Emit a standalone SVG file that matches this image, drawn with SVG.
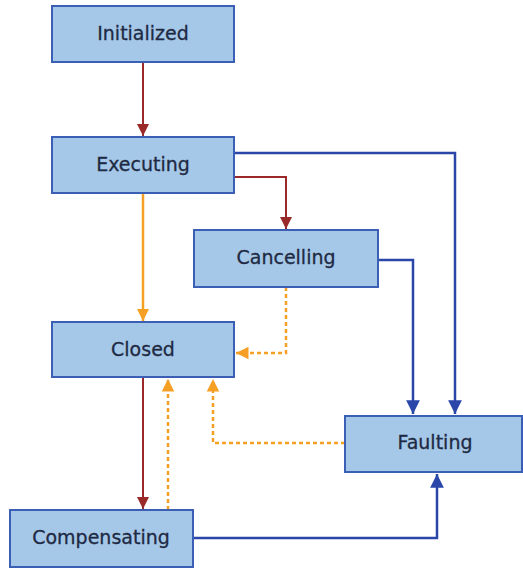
<svg xmlns="http://www.w3.org/2000/svg" width="523" height="569" viewBox="0 0 523 569">
<defs>
<style>
.box{fill:#a6c8e8;stroke:#3a5fb5;stroke-width:2}
.lbl{font-family:"DejaVu Sans",Verdana,sans-serif;font-size:19px;fill:#1e2a44;stroke:#1e2a44;stroke-width:0.3;text-anchor:middle;dominant-baseline:central}
.red{fill:none;stroke:#9a2a2a;stroke-width:2}
.blue{fill:none;stroke:#2a46a8;stroke-width:2.5}
.orange{fill:none;stroke:#f5a024;stroke-width:2.5}
.dash{stroke-dasharray:4 3}
</style>
<marker id="ar" viewBox="0 0 10 10" refX="10" refY="5" markerWidth="6" markerHeight="7" markerUnits="strokeWidth" orient="auto"><path d="M0,0 L10,5 L0,10 z" fill="#9a2a2a"/></marker>
<marker id="ab" viewBox="0 0 10 10" refX="10" refY="5" markerWidth="5.5" markerHeight="5.5" markerUnits="strokeWidth" orient="auto"><path d="M0,0 L10,5 L0,10 z" fill="#2a46a8"/></marker>
<marker id="ao" viewBox="0 0 10 10" refX="10" refY="5" markerWidth="5" markerHeight="5.5" markerUnits="strokeWidth" orient="auto"><path d="M0,0 L10,5 L0,10 z" fill="#f5a024"/></marker>
</defs>
<g id="connectors">
<path class="red" d="M143,62 V136" marker-end="url(#ar)"/>
<path class="red" d="M234,177 H286 V229" marker-end="url(#ar)"/>
<path class="blue" d="M234,153 H455 V414" marker-end="url(#ab)"/>
<path class="blue" d="M378,260 H413 V414" marker-end="url(#ab)"/>
<path class="orange" d="M143,193 V321" marker-end="url(#ao)"/>
<path class="orange dash" d="M286,287 V353 H236" marker-end="url(#ao)"/>
<path class="red" d="M143,377 V509" marker-end="url(#ar)"/>
<path class="orange dash" d="M168,510 V379" marker-end="url(#ao)"/>
<path class="orange dash" d="M345,443 H213 V379" marker-end="url(#ao)"/>
<path class="blue" d="M193,538 H437 V474" marker-end="url(#ab)"/>
</g>
<g id="initialized"><rect class="box" x="52" y="6" width="182" height="56"/><text class="lbl" x="143" y="33">Initialized</text></g>
<g id="executing"><rect class="box" x="52" y="137" width="182" height="56"/><text class="lbl" x="143" y="164">Executing</text></g>
<g id="cancelling"><rect class="box" x="194" y="230" width="184" height="57"/><text class="lbl" x="286" y="257">Cancelling</text></g>
<g id="closed"><rect class="box" x="52" y="322" width="182" height="55"/><text class="lbl" x="143" y="349">Closed</text></g>
<g id="faulting"><rect class="box" x="345" y="416" width="177" height="56"/><text class="lbl" x="435" y="442">Faulting</text></g>
<g id="compensating"><rect class="box" x="10" y="510" width="183" height="57"/><text class="lbl" x="101" y="537">Compensating</text></g>
</svg>
